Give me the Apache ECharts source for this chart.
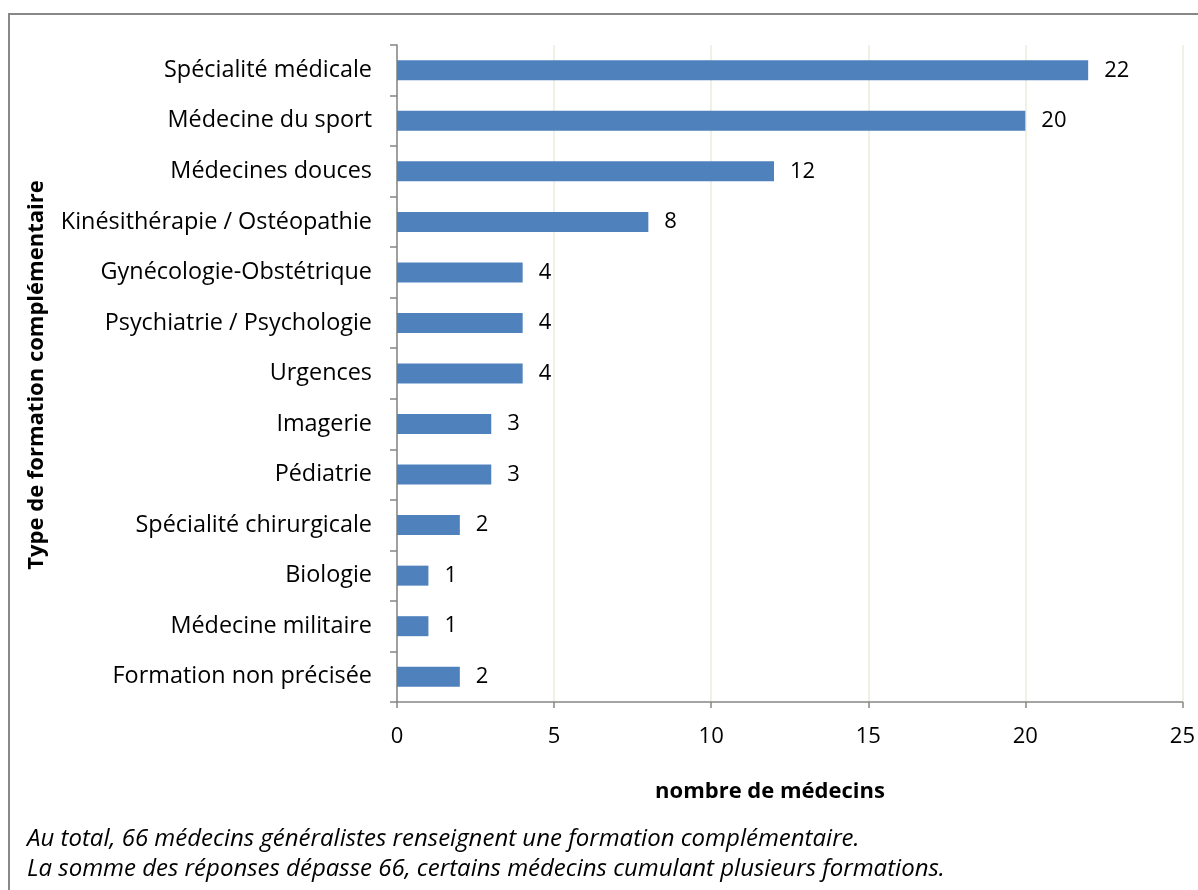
<!DOCTYPE html>
<html><head><meta charset="utf-8">
<script src="https://cdn.jsdelivr.net/npm/echarts@6/dist/echarts.min.js"></script>
<style>html,body{margin:0;padding:0;background:#fff}#c{width:1198px;height:890px}</style>
</head><body><div id="c"></div>
<script>
const categories = ["Spécialité médicale","Médecine du sport","Médecines douces","Kinésithérapie / Ostéopathie","Gynécologie-Obstétrique","Psychiatrie / Psychologie","Urgences","Imagerie","Pédiatrie","Spécialité chirurgicale","Biologie","Médecine militaire","Formation non précisée"];
const values = [22,20,12,8,4,4,4,3,3,2,1,1,2];
const xTicks = [0,5,10,15,20,25];
const yTitle = "Type de formation complémentaire";
const xTitle = "nombre de médecins";
const notes = ["Au total, 66 médecins généralistes renseignent une formation complémentaire.","La somme des réponses dépasse 66, certains médecins cumulant plusieurs formations."];

const font = "'Open Sans', 'Noto Sans', sans-serif";
const chart = echarts.init(document.getElementById('c'));
chart.setOption({
  animation:false,
  textStyle:{fontFamily:font},
  grid:{left:397,right:15,top:45,bottom:188,containLabel:false},
  xAxis:{type:'value',min:xTicks[0],max:xTicks[xTicks.length-1],interval:xTicks[1]-xTicks[0],
    axisLine:{show:true,lineStyle:{color:'#868686',width:1.5}},
    axisTick:{show:true,length:6,lineStyle:{color:'#868686',width:1.5}},
    axisLabel:{color:'#000',fontSize:22,margin:24,fontFamily:font},
    splitLine:{show:true,lineStyle:{color:'#EDEBDD',width:1.5}}},
  yAxis:{type:'category',inverse:true,data:categories,
    axisLine:{show:true,lineStyle:{color:'#868686',width:1.5}},
    axisTick:{show:true,length:7,alignWithLabel:false,lineStyle:{color:'#868686',width:1.5}},
    axisLabel:{color:'#000',fontSize:23.4,margin:25,fontFamily:font}},
  series:[{type:'bar',data:values,barWidth:20,
    itemStyle:{color:'#4F81BD'},
    label:{show:true,position:'right',distance:16,color:'#000',fontSize:22,fontFamily:font}}],
  graphic:[
    {type:'rect',shape:{x:9,y:14,width:1200,height:900},style:{fill:'none',stroke:'#888',lineWidth:2},silent:true},
    {type:'text',x:37,y:375,rotation:Math.PI/2,style:{text:yTitle,font:"bold 22px "+font,fill:'#000',textAlign:'center',textVerticalAlign:'middle'}},
    {type:'text',x:770,y:792,style:{text:xTitle,font:"bold 22px "+font,fill:'#000',textAlign:'center',textVerticalAlign:'middle'}},
    {type:'text',x:27,y:839,style:{text:notes[0],font:"italic 24px "+font,fill:'#000',textVerticalAlign:'middle'}},
    {type:'text',x:27,y:869,style:{text:notes[1],font:"italic 24px "+font,fill:'#000',textVerticalAlign:'middle'}}
  ]
});
</script></body></html>
